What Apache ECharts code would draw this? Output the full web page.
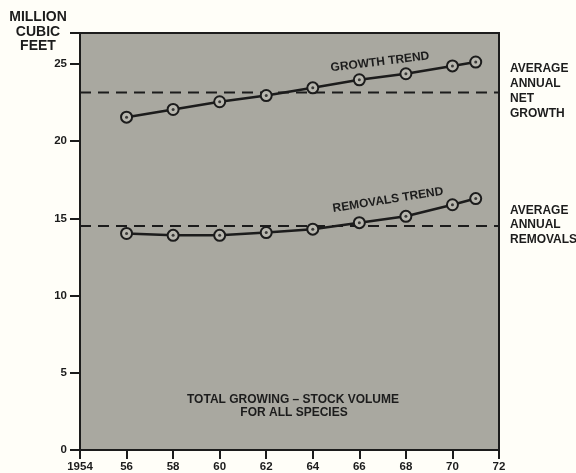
<!DOCTYPE html>
<html><head><meta charset="utf-8">
<script src="https://cdn.jsdelivr.net/npm/echarts@6/dist/echarts.min.js"></script>
<style>html,body{margin:0;padding:0;background:#fffef8;}#c{width:576px;height:473px;}</style>
</head><body><div id="c"></div>
<script>
const years = [1956, 1958, 1960, 1962, 1964, 1966, 1968, 1970, 1971];
const growth = [21.55, 22.05, 22.55, 22.95, 23.45, 23.97, 24.36, 24.87, 25.12];
const removals = [14.02, 13.9, 13.9, 14.08, 14.3, 14.72, 15.13, 15.88, 16.28];
const avgGrowth = 23.15;
const avgRemovals = 14.5;
const dashStart = 1954, dashEnd = 1972.4;
const xTicks = ['1954', '56', '58', '60', '62', '64', '66', '68', '70', '72'];
const yTicks = [0, 5, 10, 15, 20, 25];

const ink = '#1c1c1c';
const font = '"Liberation Sans", Arial, sans-serif';
const pair = (a) => years.map((y, i) => [y, a[i]]);

const chart = echarts.init(document.getElementById('c'));
chart.setOption({
  backgroundColor: '#fffef8',
  animation: false,
  grid: { left: 80, right: 77, top: 33, bottom: 22, show: true, backgroundColor: '#a9a8a0', borderColor: ink, borderWidth: 0 },
  xAxis: {
    type: 'value', min: 1954, max: 1972, interval: 2,
    axisLine: { show: true, lineStyle: { color: ink, width: 2 } },
    axisTick: { show: true, inside: false, length: 9, lineStyle: { color: ink, width: 2 } },
    axisLabel: { color: ink, fontFamily: font, fontWeight: 'bold', fontSize: 11.5, margin: 11,
      formatter: (v) => { const i = Math.round((v - 1954) / 2); return xTicks[i] || ''; } },
    splitLine: { show: false }
  },
  yAxis: {
    type: 'value', min: 0, max: 27, interval: 5,
    axisLine: { show: true, lineStyle: { color: ink, width: 2 } },
    axisTick: { show: true, inside: false, length: 10, lineStyle: { color: ink, width: 2 } },
    axisLabel: { color: ink, fontFamily: font, fontWeight: 'bold', fontSize: 11.5, margin: 13,
      formatter: (v) => yTicks.indexOf(v) >= 0 ? String(v) : '' },
    splitLine: { show: false }
  },
  series: [
    { type: 'line', data: [[dashStart, avgGrowth], [dashEnd, avgGrowth]], clip: false, symbol: 'none',
      lineStyle: { color: ink, width: 2, type: [11, 7] }, z: 2 },
    { type: 'line', data: [[dashStart, avgRemovals], [dashEnd, avgRemovals]], clip: false, symbol: 'none',
      lineStyle: { color: ink, width: 2, type: [11, 7] }, z: 2 },
    { type: 'line', data: pair(growth), symbol: 'circle', symbolSize: 11, clip: false,
      lineStyle: { color: ink, width: 2.5 }, itemStyle: { color: '#b8b7af', borderColor: ink, borderWidth: 2 }, z: 3 },
    { type: 'line', data: pair(removals), symbol: 'circle', symbolSize: 11, clip: false,
      lineStyle: { color: ink, width: 2.5 }, itemStyle: { color: '#b8b7af', borderColor: ink, borderWidth: 2 }, z: 3 },
    { type: 'scatter', data: pair(growth).concat(pair(removals)), symbolSize: 3, itemStyle: { color: ink }, z: 4 }
  ],
  graphic: [
    { type: 'line', shape: { x1: 70, y1: 33, x2: 499, y2: 33 }, style: { stroke: ink, lineWidth: 2 } },
    { type: 'line', shape: { x1: 499, y1: 32, x2: 499, y2: 451 }, style: { stroke: ink, lineWidth: 2 } },
    { type: 'text', x: 38, y: 17, style: { text: 'MILLION', fill: ink, font: 'bold 14px ' + font, textAlign: 'center', textVerticalAlign: 'middle' } },
    { type: 'text', x: 38, y: 32, style: { text: 'CUBIC', fill: ink, font: 'bold 14px ' + font, textAlign: 'center', textVerticalAlign: 'middle' } },
    { type: 'text', x: 38, y: 46, style: { text: 'FEET', fill: ink, font: 'bold 14px ' + font, textAlign: 'center', textVerticalAlign: 'middle' } },
    { type: 'text', x: 510, y: 61, style: { text: 'AVERAGE\nANNUAL\nNET\nGROWTH', fill: ink, font: 'bold 12px ' + font, lineHeight: 15, textVerticalAlign: 'top' } },
    { type: 'text', x: 510, y: 203, style: { text: 'AVERAGE\nANNUAL\nREMOVALS', fill: ink, font: 'bold 12px ' + font, lineHeight: 14.5, textVerticalAlign: 'top' } },
    { type: 'text', x: 380, y: 62, rotation: 7 * Math.PI / 180, style: { text: 'GROWTH TREND', fill: ink, font: 'bold 12px ' + font, textAlign: 'center', textVerticalAlign: 'middle' } },
    { type: 'text', x: 388, y: 200, rotation: 9 * Math.PI / 180, style: { text: 'REMOVALS TREND', fill: ink, font: 'bold 12px ' + font, textAlign: 'center', textVerticalAlign: 'middle' } },
    { type: 'text', x: 293, y: 400, style: { text: 'TOTAL GROWING \u2013 STOCK VOLUME', fill: ink, font: 'bold 12px ' + font, textAlign: 'center', textVerticalAlign: 'middle' } },
    { type: 'text', x: 294, y: 413, style: { text: 'FOR ALL SPECIES', fill: ink, font: 'bold 12px ' + font, textAlign: 'center', textVerticalAlign: 'middle' } }
  ]
});
</script></body></html>
